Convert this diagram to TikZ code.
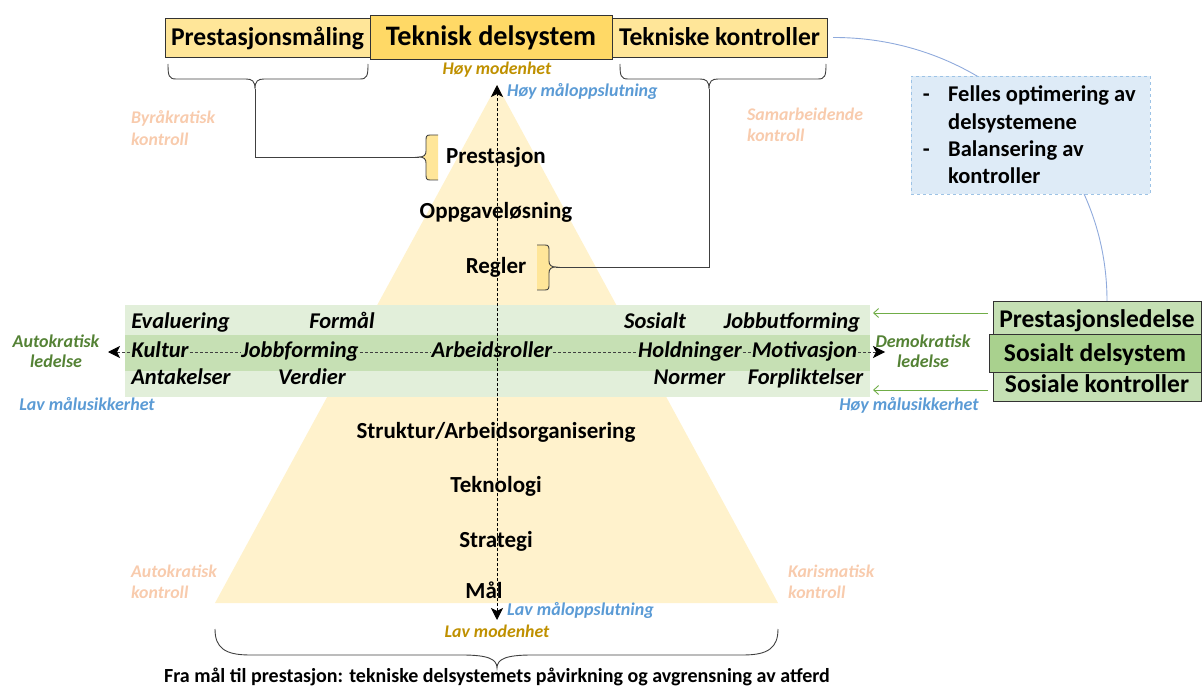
\documentclass[tikz,border=0pt]{standalone}
\usepackage{fontspec}
\setmainfont{Carlito}
\usetikzlibrary{arrows.meta}
\definecolor{ylight}{HTML}{FFE699}
\definecolor{ydark}{HTML}{FFD966}
\definecolor{pyr}{HTML}{FFF2CC}
\definecolor{gband}{HTML}{E2EFDA}
\definecolor{gmid}{HTML}{C6E0B4}
\definecolor{gbox}{HTML}{C5E0B4}
\definecolor{gboxd}{HTML}{A9D18E}
\definecolor{gtext}{HTML}{548235}
\definecolor{garrow}{HTML}{70AD47}
\definecolor{btext}{HTML}{5B9BD5}
\definecolor{goldtext}{HTML}{BF9000}
\definecolor{peach}{HTML}{F8CBAD}
\definecolor{bfill}{HTML}{DEEBF7}
\definecolor{bborder}{HTML}{9DC3E6}
\definecolor{bcurve}{HTML}{8FAADC}
\definecolor{bracecol}{HTML}{404040}
\tikzset{
  topbox/.style={draw=black!80, fill=ylight, inner sep=0pt, text height=18pt, text depth=2pt, font=\fontsize{25.6}{28}\selectfont\bfseries},
  mainbox/.style={draw=black!80, fill=ydark, inner sep=0pt, text height=19pt, text depth=2pt, font=\fontsize{28.2}{30}\selectfont\bfseries},
  sidebox/.style={draw=black!80, fill=gbox, inner sep=0pt, text height=18pt, text depth=2pt, font=\fontsize{25.5}{28}\selectfont\bfseries},
  pyrtext/.style={font=\fontsize{23}{26}\selectfont\bfseries, inner sep=1pt, text height=17pt, text depth=5pt},
  bandtext/.style={font=\fontsize{22.5}{25}\selectfont\bfseries\itshape, inner sep=1pt, text height=16pt, text depth=5pt},
  peachlbl/.style={text=peach, align=left, anchor=west, inner sep=0pt, font=\fontsize{17.8}{21.5}\selectfont\bfseries\itshape},
  greenlbl/.style={text=gtext, align=center, inner sep=0pt, font=\fontsize{18}{20.5}\selectfont\bfseries\itshape},
  bluelbl/.style={text=btext, inner sep=0pt, text height=13pt, text depth=4pt, font=\fontsize{18}{20}\selectfont\bfseries\itshape},
  goldlbl/.style={text=goldtext, inner sep=0pt, text height=13pt, text depth=4pt, font=\fontsize{17.8}{20}\selectfont\bfseries\itshape},
  bracestroke/.style={draw=bracecol, line width=0.9pt},
  bracketfill/.style={fill=ylight},
  bandline/.style={draw=black!75, line width=0.8pt, dash pattern=on 3pt off 2pt},
  axisline/.style={draw=black, line width=0.9pt, dash pattern=on 3pt off 2pt},
  blackhead/.tip={Stealth[length=12pt,width=12pt,inset=3pt,color=black]},
  blacktip/.style={-blackhead},
  greenarrow/.style={draw=garrow, line width=0.9pt, -{Straight Barb[length=5pt,width=9pt]}},
}
\begin{document}
\begin{tikzpicture}[x=1pt,y=-1pt]
\useasboundingbox (0,0) rectangle (1203,687);

% ---------- pyramid ----------
\coordinate (apex) at (497,85);
\coordinate (baseL) at (215,603);
\coordinate (baseR) at (778,603);
\fill[pyr] (apex) -- (baseL) -- (baseR) -- cycle;

\coordinate (curveEnd) at (1107,301);

% ---------- green band across the pyramid ----------
\fill[gband] (125,305) rectangle (870,397);
\fill[gmid] (125,335) rectangle (870,371);

% ---------- vertical axis ----------
\coordinate (axisTop) at (497,85);
\coordinate (axisBot) at (497,620);
\draw[axisline, blackhead-blackhead] (axisBot) -- (axisTop);

% ---------- top boxes ----------
\node[topbox, minimum width=205, minimum height=39] (pmaal) at (267.5,37.5) {Prestasjonsmåling};
\node[topbox, minimum width=215, minimum height=39] (tkontr) at (719.5,37.5) {Tekniske kontroller};
\node[mainbox, minimum width=242, minimum height=44] (tdel) at (491,37) {Teknisk delsystem};

% curve behind the note, down to the social subsystem
\draw[bcurve, line width=0.9pt] ([xshift=6pt]tkontr.east) .. controls (982,37) and (1107,151) .. (curveEnd);

% ---------- blue note ----------
\node[draw=bborder, fill=bfill, dashed, line width=0.8pt, minimum width=239, minimum height=118, inner sep=0pt] (note) at (1030.5,135) {};
\node[anchor=west, align=left, inner sep=0pt, font=\fontsize{22.5}{27.3}\selectfont\bfseries] (notetext) at (919,135)
  {\makebox[29pt][l]{\,-}Felles optimering av\\\makebox[29pt][l]{}delsystemene\\\makebox[29pt][l]{\,-}Balansering av\\\makebox[29pt][l]{}kontroller};

% ---------- braces under the top boxes ----------
\coordinate (cuspL) at (255,89);
\coordinate (cuspR) at (709,89);
\draw[bracestroke] (168,64) .. controls (168,76) and (169,79) .. (176,79) -- (246,79)
  .. controls (252,79) and (255,81) .. (cuspL)
  .. controls (255,81) and (258,79) .. (264,79) -- (360,79)
  .. controls (367,79) and (368,76) .. (368,64);
\draw[bracestroke] (620,64) .. controls (620,76) and (621,79) .. (628,79) -- (700,79)
  .. controls (706,79) and (709,81) .. (cuspR)
  .. controls (709,81) and (712,79) .. (718,79) -- (818,79)
  .. controls (825,79) and (826,76) .. (826,64);

% small brackets beside the pyramid
\coordinate (tipP) at (419,157);
\coordinate (tipR) at (556,267);
\fill[bracketfill] (438,135) -- (430,135) .. controls (426,135) and (426,137) .. (426,141) -- (426,151)
  .. controls (426,155) and (424,157) .. (tipP) .. controls (424,157) and (426,159) .. (426,163)
  -- (426,174) .. controls (426,178) and (426,180) .. (430,180) -- (438,180) -- cycle;
\draw[bracestroke] (438,135) -- (430,135) .. controls (426,135) and (426,137) .. (426,141) -- (426,151)
  .. controls (426,155) and (424,157) .. (tipP) .. controls (424,157) and (426,159) .. (426,163)
  -- (426,174) .. controls (426,178) and (426,180) .. (430,180) -- (438,180);
\fill[bracketfill] (537,245) -- (545,245) .. controls (549,245) and (549,247) .. (549,251) -- (549,261)
  .. controls (549,265) and (551,267) .. (tipR) .. controls (551,267) and (549,269) .. (549,273)
  -- (549,284) .. controls (549,288) and (549,290) .. (545,290) -- (537,290) -- cycle;
\draw[bracestroke] (537,245) -- (545,245) .. controls (549,245) and (549,247) .. (549,251) -- (549,261)
  .. controls (549,265) and (551,267) .. (tipR) .. controls (551,267) and (549,269) .. (549,273)
  -- (549,284) .. controls (549,288) and (549,290) .. (545,290) -- (537,290);

% brace connectors
\draw[bracestroke] (cuspL) |- (tipP);
\draw[bracestroke] (cuspR) |- (tipR);

% ---------- pyramid levels ----------
\node[pyrtext] (lPrest) at (496,158) {Prestasjon};
\node[pyrtext] (lOppg) at (496,213) {Oppgaveløsning};
\node[pyrtext] (lRegl) at (496,268) {Regler};
\node[pyrtext] (lStrukt) at (496,432) {Struktur/Arbeidsorganisering};
\node[pyrtext] (lTekn) at (496,486) {Teknologi};
\node[pyrtext] (lStrat) at (496,541) {Strategi};
\node[pyrtext] (lMaal) at (484,592) {Mål};

% ---------- axis labels ----------
\node[goldlbl] (hoyMod) at (497,70) {Høy modenhet};
\node[bluelbl, anchor=west] (hoyMaal) at (507,92) {Høy måloppslutning};
\node[bluelbl, anchor=west] (lavMaal) at (507,611) {Lav måloppslutning};
\node[goldlbl] (lavMod) at (497,633) {Lav modenhet};

% ---------- band words ----------
\node[bandtext] (wEval) at (180.5,323) {Evaluering};
\node[bandtext] (wFormaal) at (342,323) {Formål};
\node[bandtext] (wSos) at (655,323) {Sosialt};
\node[bandtext] (wJobbut) at (792,323) {Jobbutforming};
\node[bandtext] (wKultur) at (160,352) {Kultur};
\node[bandtext] (wJobbf) at (300,352) {Jobbforming};
\node[bandtext] (wArb) at (492,352) {Arbeidsroller};
\node[bandtext] (wHold) at (690,352) {Holdninger};
\node[bandtext] (wMotiv) at (804.5,352) {Motivasjon};
\node[bandtext] (wAnt) at (181,379) {Antakelser};
\node[bandtext] (wVerd) at (312,379) {Verdier};
\node[bandtext] (wNorm) at (689.5,379) {Normer};
\node[bandtext] (wForpl) at (805.5,379) {Forpliktelser};

\coordinate (bandL) at (108,352);
\coordinate (bandR) at (885,352);
\draw[bandline, blacktip] (wKultur.west) -- (bandL);
\draw[bandline] (wKultur.east) -- (wJobbf.west);
\draw[bandline] (wJobbf.east) -- (wArb.west);
\draw[bandline] (wArb.east) -- (wHold.west);
\draw[bandline] (wHold.east) -- (wMotiv.west);
\draw[bandline, blacktip] (wMotiv.east) -- (bandR);

% ---------- side labels ----------
\node[greenlbl] (autoLed) at (56,351) {Autokratisk\\ledelse};
\node[greenlbl] (demoLed) at (923,351) {Demokratisk\\ledelse};
\node[bluelbl] (lavUs) at (87,406) {Lav målusikkerhet};
\node[bluelbl] (hoyUs) at (909,406) {Høy målusikkerhet};

\node[peachlbl] (byrK) at (131,128) {Byråkratisk\\kontroll};
\node[peachlbl] (samK) at (747,125) {Samarbeidende\\kontroll};
\node[peachlbl] (autK) at (131,582) {Autokratisk\\kontroll};
\node[peachlbl] (karK) at (788,582) {Karismatisk\\kontroll};

% ---------- social subsystem boxes ----------
\node[sidebox, minimum width=208, minimum height=37] (psl) at (1097,319.5) {Prestasjonsledelse};
\node[sidebox, minimum width=208, minimum height=34] (skon) at (1097,384) {Sosiale kontroller};
\node[sidebox, fill=gboxd, minimum width=212, minimum height=38] (sdel) at (1095,353) {Sosialt delsystem};

\coordinate (gA1) at (988,313);
\coordinate (gB1) at (873,313);
\coordinate (gA2) at (988,390);
\coordinate (gB2) at (873,390);
\draw[greenarrow] (gA1) -- (gB1);
\draw[greenarrow] (gA2) -- (gB2);

% ---------- bottom brace and caption ----------
\draw[bracestroke] (215,629) .. controls (215,648) and (225,655) .. (250,655) -- (462,655)
  .. controls (488,655) and (497,659) .. (497,668)
  .. controls (497,659) and (506,655) .. (532,655) -- (743,655)
  .. controls (768,655) and (778,648) .. (778,629);
\node[font=\fontsize{20}{22}\selectfont\bfseries, inner sep=0pt] (caption) at (497,677)
  {Fra mål til prestasjon: tekniske delsystemets påvirkning og avgrensning av atferd};
\end{tikzpicture}
\end{document}
